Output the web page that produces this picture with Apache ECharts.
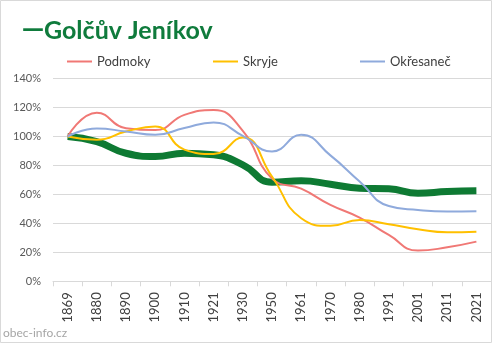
<!DOCTYPE html>
<html>
<head>
<meta charset="utf-8">
<script src="https://cdn.jsdelivr.net/npm/echarts@6/dist/echarts.min.js"></script>
<style>
html,body{margin:0;padding:0;background:#fff;}
#c{width:492px;height:343px;}
</style>
</head>
<body>
<div id="c"></div>
<script>
const years = ['1869','1880','1890','1900','1910','1921','1930','1950','1961','1970','1980','1991','2001','2011','2021'];
const golcuvJenikov = [100, 96.5, 88.5, 86.2, 88.5, 87.4, 80.5, 68.5, 69.4, 67.1, 64.3, 63.9, 60.9, 62, 62.5];
const podmoky = [100, 116.5, 105.8, 104.5, 115, 118.3, 104, 71, 64, 52.8, 44, 32, 21.2, 23.5, 27.4];
const skryje = [100, 97.8, 103.5, 107, 91, 87.9, 99.4, 72.4, 43.6, 38.3, 42.4, 39.4, 36, 33.9, 34.3];
const okresanec = [100, 105.6, 103.5, 101.2, 105.9, 109.8, 100.5, 89.7, 101.2, 87, 69, 52, 49.3, 48.2, 48.4];
const yTicks = [0, 20, 40, 60, 80, 100, 120, 140];

const chart = echarts.init(document.getElementById('c'), null, {renderer: 'canvas'});
const FONT = 'Lato';
function legendAt(name, left) {
  return {
    data: [name], left: left, top: 50, icon: 'rect', itemWidth: 25, itemHeight: 2,
    itemGap: 5, textStyle: {fontFamily: FONT, fontSize: 13, color: '#404040'}, selectedMode: false
  };
}
chart.setOption({
  animation: false,
  title: {
    text: '{d|—}{t|Golčův Jeníkov}', left: 17, top: 13,
    textStyle: {
      rich: {
        d: {fontFamily: 'DejaVu Sans', fontSize: 22, fontWeight: 'bold', color: '#0F7B3C'},
        t: {fontFamily: FONT, fontSize: 25, fontWeight: 'bold', color: '#0F7B3C'}
      }
    }
  },
  legend: [legendAt('Podmoky', 62), legendAt('Skryje', 208), legendAt('Okřesaneč', 355)],
  grid: {left: 53, right: 1, top: 78.7, bottom: 61.7, containLabel: false},
  xAxis: {
    type: 'category', data: years, boundaryGap: true,
    axisLine: {lineStyle: {color: '#d9d9d9'}},
    axisTick: {show: true, length: 5, lineStyle: {color: '#d9d9d9'}},
    axisLabel: {rotate: 90, margin: 11, fontFamily: FONT, fontSize: 13, color: '#404040', interval: 0}
  },
  yAxis: {
    type: 'value', min: 0, max: 140, interval: 20,
    axisLine: {show: false}, axisTick: {show: false},
    splitLine: {lineStyle: {color: '#d9d9d9'}},
    axisLabel: {margin: 12, fontFamily: FONT, fontSize: 11, color: '#595959', formatter: v => v + '%'}
  },
  series: [
    {name: 'Golčův Jeníkov', type: 'line', data: golcuvJenikov, smooth: 0.5, symbol: 'none',
     lineStyle: {color: '#0E7A33', width: 7}, itemStyle: {color: '#0E7A33'}},
    {name: 'Podmoky', type: 'line', data: podmoky, smooth: 0.5, symbol: 'none',
     lineStyle: {color: '#F07875', width: 2}, itemStyle: {color: '#F07875'}},
    {name: 'Skryje', type: 'line', data: skryje, smooth: 0.5, symbol: 'none',
     lineStyle: {color: '#FFC000', width: 2}, itemStyle: {color: '#FFC000'}},
    {name: 'Okřesaneč', type: 'line', data: okresanec, smooth: 0.5, symbol: 'none',
     lineStyle: {color: '#8FAADC', width: 2}, itemStyle: {color: '#8FAADC'}}
  ],
  graphic: [
    {type: 'rect', shape: {x: 0.5, y: 0.5, width: 491, height: 342}, style: {fill: 'none', stroke: '#d9d9d9', lineWidth: 1}, silent: true},
    {type: 'text', left: 3, top: 327, style: {text: 'obec-info.cz', fontFamily: FONT, fontSize: 12, fill: '#a6a6a6'}}
  ]
});
</script>
</body>
</html>
